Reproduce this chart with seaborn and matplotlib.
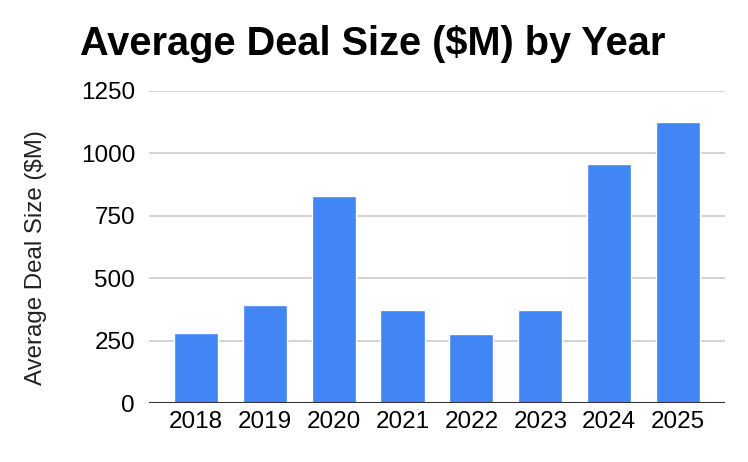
import matplotlib
matplotlib.use("Agg")
import matplotlib.pyplot as plt
import pandas as pd
import seaborn as sns

# Values
years = ["2018", "2019", "2020", "2021", "2022", "2023", "2024", "2025"]
deal_size = [282, 394, 827, 371, 275, 371, 955, 1123]
y_ticks = [0, 250, 500, 750, 1000, 1250]

df = pd.DataFrame({"Year": years, "Average Deal Size ($M)": deal_size})

sns.set_theme(style="white")
plt.rcParams["font.family"] = ["Liberation Sans", "DejaVu Sans"]

fig = plt.figure(figsize=(7.48, 4.62), dpi=100)
ax = fig.add_axes([0.1992, 0.1277, 0.7700, 0.6760])

sns.barplot(data=df, x="Year", y="Average Deal Size ($M)", color="#4285F4",
            saturation=1, width=0.64, ax=ax, zorder=3)

ax.set_ylim(0, 1250)
ax.set_xlim(-0.68, 7.68)
ax.set_yticks(y_ticks)
ax.set_yticklabels([str(t) for t in y_ticks])
ax.yaxis.grid(True, color="#cccccc", linewidth=1.2, zorder=0)
ax.axhline(0, color="#333333", linewidth=1.5, zorder=4)
for side in ["top", "right", "left", "bottom"]:
    ax.spines[side].set_visible(False)
ax.tick_params(axis="both", length=0, labelsize=17.5, colors="#000000")
ax.tick_params(axis="y", pad=10)
ax.tick_params(axis="x", pad=6)
ax.set_xlabel("")
ax.set_ylabel("")

fig.text(0.048, 0.443, "Average Deal Size ($M)", rotation=90, fontsize=17.3,
         ha="center", va="center", color="#222222")
fig.text(0.107, 0.905, "Average Deal Size ($M) by Year", fontsize=28.6,
         fontweight="bold", ha="left", va="center", color="#000000")

fig.savefig("out.png", dpi=100)
